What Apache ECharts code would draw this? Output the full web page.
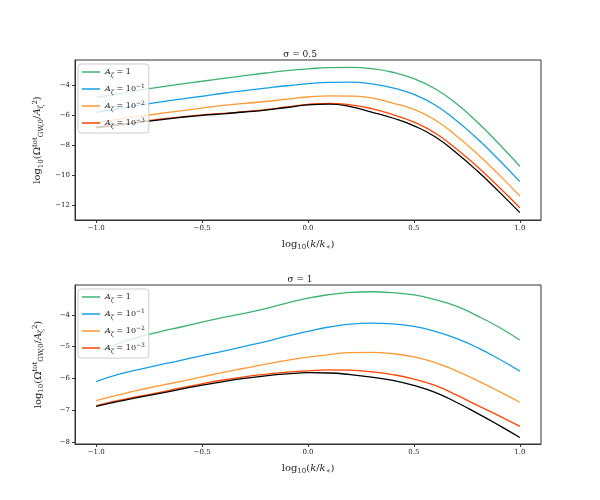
<!DOCTYPE html>
<html>
<head>
<meta charset="utf-8">
<script src="https://cdn.jsdelivr.net/npm/echarts@6/dist/echarts.min.js"></script>
<style>
  html, body { margin: 0; padding: 0; background: #fff; }
  #main { width: 600px; height: 500px; }
</style>
</head>
<body>
<div id="main"></div>
<script>
// log10(k/k*) sampled every 0.1
var kx = [-1.0, -0.9, -0.8, -0.7, -0.6, -0.5, -0.4, -0.3, -0.2, -0.1, 0.0,
  0.1, 0.2, 0.3, 0.4, 0.5, 0.6, 0.7, 0.8, 0.9, 1.0]

// sigma = 0.5
var s05_a1 = [-4.82, -4.6, -4.36, -4.14, -3.94, -3.75, -3.56, -3.38, -3.2, -3.04, -2.92,
  -2.84, -2.83, -2.91, -3.15, -3.58, -4.25, -5.23, -6.48, -7.9, -9.42]
var s05_a2 = [-5.82, -5.6, -5.36, -5.14, -4.94, -4.75, -4.55, -4.38, -4.21, -4.05, -3.91,
  -3.82, -3.81, -3.92, -4.19, -4.63, -5.33, -6.37, -7.59, -8.97, -10.44]
var s05_a3 = [-6.52, -6.3, -6.1, -5.9, -5.72, -5.54, -5.36, -5.22, -5.1, -4.94, -4.8,
  -4.72, -4.74, -4.86, -5.2, -5.62, -6.33, -7.38, -8.6, -9.96, -11.4]
var s05_a4 = [-6.8, -6.63, -6.46, -6.28, -6.12, -5.99, -5.89, -5.77, -5.64, -5.46, -5.29,
  -5.22, -5.32, -5.57, -5.97, -6.47, -7.2, -8.25, -9.45, -10.78, -12.18]
var s05_lim = [-6.85, -6.68, -6.5, -6.32, -6.16, -6.02, -5.92, -5.8, -5.68, -5.5, -5.33,
  -5.28, -5.44, -5.8, -6.2, -6.72, -7.45, -8.52, -9.74, -11.09, -12.51]

// sigma = 1
var s1_a1 = [-5.15, -4.91, -4.7, -4.53, -4.38, -4.23, -4.08, -3.95, -3.8, -3.63, -3.47,
  -3.36, -3.29, -3.27, -3.3, -3.37, -3.52, -3.72, -4.03, -4.38, -4.79]
var s1_a2 = [-6.1, -5.88, -5.72, -5.57, -5.43, -5.28, -5.14, -4.99, -4.84, -4.67, -4.52,
  -4.38, -4.29, -4.26, -4.28, -4.36, -4.52, -4.74, -5.03, -5.38, -5.77]
var s1_a3 = [-6.7, -6.53, -6.37, -6.23, -6.09, -5.95, -5.81, -5.68, -5.55, -5.43, -5.33,
  -5.25, -5.19, -5.18, -5.22, -5.32, -5.5, -5.76, -6.07, -6.4, -6.75]
var s1_a4 = [-6.86, -6.7, -6.57, -6.44, -6.3, -6.17, -6.05, -5.95, -5.87, -5.8, -5.76,
  -5.73, -5.74, -5.79, -5.88, -6.02, -6.22, -6.52, -6.85, -7.17, -7.51]
var s1_lim = [-6.88, -6.73, -6.6, -6.47, -6.34, -6.21, -6.1, -6.0, -5.92, -5.86, -5.82,
  -5.83, -5.88, -5.96, -6.06, -6.22, -6.44, -6.75, -7.1, -7.47, -7.86]

var names = ['{it|A}{i|ζ} = 1', '{it|A}{i|ζ} = 10{sup|−1}', '{it|A}{i|ζ} = 10{sup|−2}', '{it|A}{i|ζ} = 10{sup|−3}']
var colors = ['#3cb371', '#159ee6', '#ff9933', '#ff4500', '#000000']
var xTicks = [-1.0, -0.5, 0.0, 0.5, 1.0]
var yTicksTop = [-12, -10, -8, -6, -4]
var yTicksBot = [-8, -7, -6, -5, -4]

var serif = 'DejaVu Serif'
var rich = {
  it: { fontFamily: serif, fontStyle: 'italic', fontSize: 8, color: '#222' },
  i: { fontFamily: serif, fontStyle: 'italic', fontSize: 6, color: '#222', padding: [6, 0, 0, 0] },
  sup: { fontFamily: serif, fontSize: 6, color: '#222', padding: [0, 0, 6, 0] },
}

function pairs(ys) {
  return kx.map(function (x, i) { return [x, ys[i]] })
}
function fmtMinus(v, digits) {
  var s = digits ? v.toFixed(digits) : String(v)
  return s.replace('-', '\u2212')
}

var dom = document.getElementById('main')
var myChart = echarts.init(dom)

var grids = [
  { left: 75, top: 60, width: 466, height: 160 },
  { left: 75, top: 285, width: 466, height: 159 },
]

function xAxis(idx) {
  return {
    type: 'value', gridIndex: idx, min: -1.1, max: 1.1,
    name: 'log{sub|10}({it|k}/{it|k}{sub|∗})', nameLocation: 'middle', nameGap: 18,
    nameTextStyle: {
      fontFamily: serif, fontSize: 10, color: '#222',
      rich: {
        sub: { fontFamily: serif, fontSize: 7, color: '#222', padding: [6, 0, 0, 0] },
        it: { fontFamily: serif, fontStyle: 'italic', fontSize: 10, color: '#222' },
      },
    },
    splitLine: { show: false },
    axisLine: { onZero: false, lineStyle: { color: '#333', width: 1 } },
    axisTick: { customValues: xTicks, length: 3, lineStyle: { color: '#333' } },
    axisLabel: {
      customValues: xTicks, fontFamily: serif, fontSize: 7, color: '#222', margin: 5,
      formatter: function (v) { return fmtMinus(v, 1) },
    },
  }
}

function yAxis(idx, min, max, ticks) {
  return {
    type: 'value', gridIndex: idx, min: min, max: max,
    name: 'log{sub|10}(Ω{sup|tot}{sub|GW,0}/{it|A}{sub|ζ}{sup|2})',
    nameLocation: 'middle', nameGap: 30,
    nameTextStyle: {
      fontFamily: serif, fontSize: 10, color: '#222',
      rich: {
        it: { fontFamily: serif, fontStyle: 'italic', fontSize: 10, color: '#222' },
        sub: { fontFamily: serif, fontSize: 7, color: '#222', padding: [6, 0, 0, 0] },
        sup: { fontFamily: serif, fontSize: 7, color: '#222', padding: [0, 0, 6, 0] },
      },
    },
    splitLine: { show: false },
    axisLine: { show: true, onZero: false, lineStyle: { color: '#333', width: 1 } },
    axisTick: { show: true, customValues: ticks, length: 3, lineStyle: { color: '#333' } },
    axisLabel: {
      customValues: ticks, fontFamily: serif, fontSize: 7, color: '#222', margin: 5,
      formatter: function (v) { return fmtMinus(v) },
    },
  }
}

function lines(idx, sets) {
  return sets.map(function (ys, i) {
    return {
      type: 'line', name: i < 4 ? names[i] : 'limit',
      xAxisIndex: idx, yAxisIndex: idx,
      data: pairs(ys), smooth: 0.5, symbol: 'none',
      lineStyle: { color: colors[i], width: 1.3 },
      itemStyle: { color: colors[i] },
      z: i === 4 ? 3 : 2, silent: true,
    }
  })
}

function legend(top) {
  return {
    data: names, orient: 'vertical', left: 78, top: top,
    icon: 'rect', itemWidth: 18, itemHeight: 1.5, itemGap: 5,
    backgroundColor: 'rgba(255,255,255,0.8)', borderColor: '#ccc', borderWidth: 1,
    borderRadius: 3, padding: [4, 4, 4, 4],
    textStyle: { fontFamily: serif, fontSize: 8, color: '#222', rich: rich },
    selectedMode: false,
  }
}

option = {
  backgroundColor: '#fff',
  animation: false,
  title: [
    { text: 'σ = 0.5', left: 'center', top: 45,
      textStyle: { fontFamily: serif, fontSize: 9, fontWeight: 'normal', color: '#222' } },
    { text: 'σ = 1', left: 'center', top: 270,
      textStyle: { fontFamily: serif, fontSize: 9, fontWeight: 'normal', color: '#222' } },
  ],
  legend: [legend(64), legend(289)],
  grid: grids.map(function (g) {
    return Object.assign({ show: true, borderColor: '#333', borderWidth: 1, backgroundColor: 'transparent' }, g)
  }),
  xAxis: [xAxis(0), xAxis(1)],
  yAxis: [yAxis(0, -13.0, -2.333, yTicksTop), yAxis(1, -8.066, -3.057, yTicksBot)],
  series: lines(0, [s05_a1, s05_a2, s05_a3, s05_a4, s05_lim])
    .concat(lines(1, [s1_a1, s1_a2, s1_a3, s1_a4, s1_lim])),
}

if (option && typeof option === 'object') {
  myChart.setOption(option, true)
}
</script>
</body>
</html>
